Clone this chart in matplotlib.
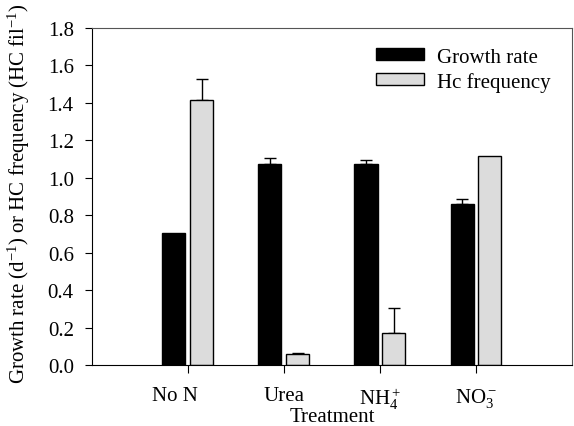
import numpy as np
import matplotlib
matplotlib.use("Agg")
import matplotlib.pyplot as plt
from matplotlib.transforms import ScaledTranslation

categories = ["No N", "Urea", "NH$_4^+$", "NO$_3^-$"]
growth_rate = [0.707, 1.072, 1.072, 0.860]
growth_err = [0.0, 0.032, 0.023, 0.025]
hc_freq = [1.414, 0.057, 0.171, 1.118]
hc_err = [0.112, 0.009, 0.132, 0.0]

plt.rcParams['font.family'] = ['Liberation Serif', 'DejaVu Serif']
plt.rcParams['mathtext.fontset'] = 'custom'
plt.rcParams['mathtext.rm'] = 'Liberation Serif'
plt.rcParams['mathtext.it'] = 'Liberation Serif:italic'

FS = 15

fig = plt.figure(figsize=(5.74, 4.27), dpi=100)
ax = fig.add_axes([0.16, 0.143, 0.8365, 0.789])

x = np.arange(len(categories))
w = 0.24
off = 0.145
ax.bar(x - off, growth_rate, w, color='black', edgecolor='black', linewidth=1, label='Growth rate', zorder=2)
ax.bar(x + off, hc_freq, w, color='#dcdcdc', edgecolor='black', linewidth=1, label='Hc frequency', zorder=2)

for xs, vals, errs in [(x - off, growth_rate, growth_err), (x + off, hc_freq, hc_err)]:
    for xi, v, e in zip(xs, vals, errs):
        if e > 0:
            ax.errorbar(xi, v, yerr=[[0], [e]], fmt='none', ecolor='black', elinewidth=1, capsize=4, capthick=1, zorder=1)

ax.set_xlim(-1, 4)
ax.set_ylim(0, 1.8)
ax.set_yticks(np.arange(0, 1.81, 0.2))
ax.set_yticklabels([f"{v:.1f}" for v in np.arange(0, 1.81, 0.2)])
ax.set_xticks(x)
ax.set_xticklabels(categories)
ax.tick_params(axis='both', labelsize=FS, direction='out')
ax.tick_params(axis='y', length=5, pad=8)
ax.tick_params(axis='x', length=6, pad=9)
# first category label sits slightly left of its tick in the original
lbl0 = ax.get_xticklabels()[0]
lbl0.set_transform(lbl0.get_transform() + ScaledTranslation(-0.13, 0, fig.dpi_scale_trans))
ax.set_xlabel("Treatment", fontsize=FS, labelpad=-3)
ax.set_ylabel("Growth rate (d$^{-1}$) or HC frequency (HC fil$^{-1}$)", fontsize=FS, labelpad=5)
ax.yaxis.set_label_coords(-0.125, 0.51)
for s in ['top', 'right']:
    ax.spines[s].set_color('#555555')
    ax.spines[s].set_linewidth(0.8)

ax.legend(loc='upper right', frameon=False, fontsize=FS, handlelength=2.3, handleheight=0.5,
          labelspacing=0.25, handletextpad=0.6, borderaxespad=0.3, bbox_to_anchor=(0.985, 0.985))

fig.savefig("out.png", dpi=100)
